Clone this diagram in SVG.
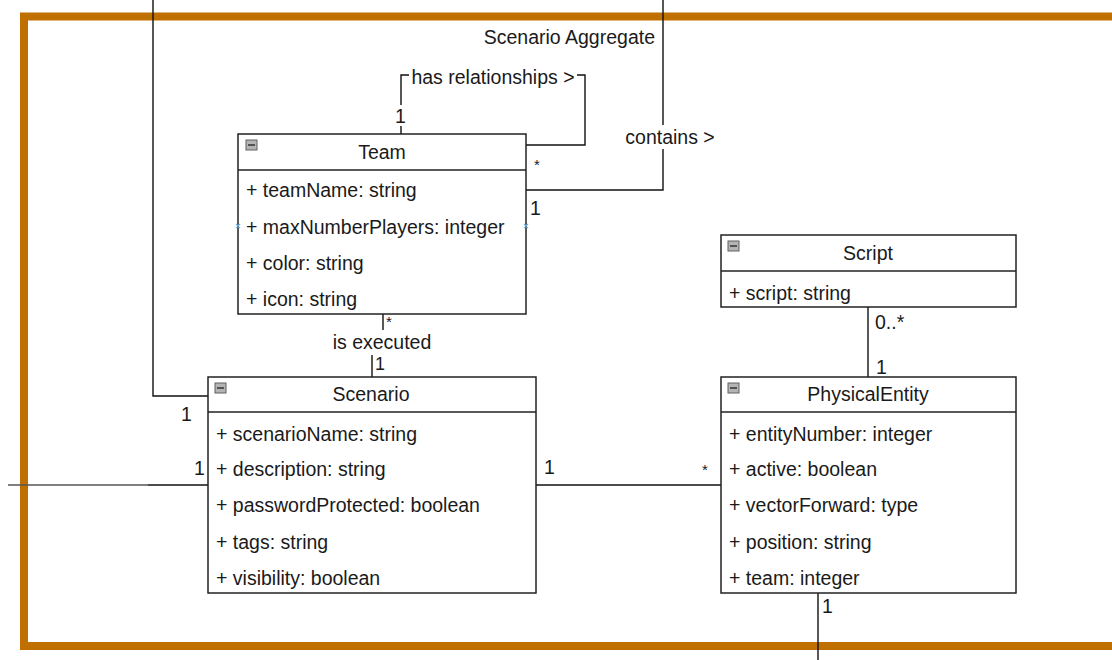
<svg xmlns="http://www.w3.org/2000/svg" width="1112" height="660" viewBox="0 0 1112 660">
  <style>
    text { font-family: "Liberation Sans", Arial, sans-serif; font-size: 19.5px; fill: #1a1a1a; }
    .title { text-anchor: middle; }
    .small { font-size: 15px; }
    .mult { font-size: 18px; }
    .box { fill: #ffffff; stroke: #222222; stroke-width: 1.5; }
    .sep { stroke: #222222; stroke-width: 1.5; }
    .edge { fill: none; stroke: #111111; stroke-width: 1.4; }
    .lbl { fill: #ffffff; }
    .tog { fill: #b4b4b4; stroke: #606060; stroke-width: 1; }
    .mark { stroke: #6cb4e8; stroke-width: 1.2; }
  </style>
  <defs>
    <g id="toggle">
      <rect class="tog" x="0" y="0" width="11" height="10"/>
      <line x1="2" y1="5" x2="9" y2="5" stroke="#333" stroke-width="1.5"/>
    </g>
  </defs>

  <rect width="1112" height="660" fill="#ffffff"/>

  <!-- aggregate frame -->
  <g id="aggregate">
    <rect x="24" y="16.5" width="1110" height="629.5" fill="none" stroke="#c07000" stroke-width="8"/>
    <text x="655" y="44" text-anchor="end">Scenario Aggregate</text>
  </g>

  <!-- associations -->
  <g id="connectors">
    <!-- incoming from above to Scenario -->
    <polyline class="edge" points="153,0 153,396 208,396"/>
    <text x="181" y="421">1</text>
    <!-- incoming from the left to Scenario -->
    <line x1="8" y1="485" x2="148" y2="485" stroke="#555" stroke-width="1.4"/>
    <line class="edge" x1="148" y1="485" x2="208" y2="485"/>
    <text x="194" y="475">1</text>

    <!-- contains -->
    <polyline class="edge" points="663,0 663,190 526,190"/>
    <rect class="lbl" x="620" y="125" width="100" height="24"/>
    <text x="670" y="144" text-anchor="middle">contains &gt;</text>
    <text x="530" y="215">1</text>

    <!-- has relationships (self) -->
    <polyline class="edge" points="401,134 401,75 585,75 585,145 526,145"/>
    <rect class="lbl" x="409" y="65" width="168" height="24"/>
    <text x="493" y="84" text-anchor="middle">has relationships &gt;</text>
    <rect class="lbl" x="394" y="105" width="13" height="21"/>
    <text x="395" y="123">1</text>
    <text x="534" y="170" class="small">*</text>

    <!-- is executed -->
    <line class="edge" x1="383" y1="314" x2="383" y2="330"/>
    <line class="edge" x1="372" y1="355" x2="372" y2="377"/>
    <text x="386" y="327" class="small">*</text>
    <text x="382" y="349" text-anchor="middle">is executed</text>
    <text x="375" y="370" class="mult">1</text>

    <!-- Scenario to PhysicalEntity -->
    <line class="edge" x1="536" y1="485" x2="721" y2="485"/>
    <text x="544" y="474">1</text>
    <text x="702" y="475" class="small">*</text>

    <!-- Script to PhysicalEntity -->
    <line class="edge" x1="868" y1="307" x2="868" y2="377"/>
    <text x="875" y="329">0..*</text>
    <text x="876" y="374">1</text>

    <!-- PhysicalEntity downward -->
    <line class="edge" x1="818" y1="593" x2="818" y2="660"/>
    <text x="822" y="613">1</text>
  </g>

  <!-- Team -->
  <g id="team">
    <rect class="box" x="238" y="134" width="288" height="180"/>
    <line class="sep" x1="238" y1="170" x2="526" y2="170"/>
    <use href="#toggle" x="246" y="140"/>
    <text class="title" x="382" y="159">Team</text>
    <text x="246" y="197">+ teamName: string</text>
    <text x="246" y="234">+ maxNumberPlayers: integer</text>
    <text x="246" y="270">+ color: string</text>
    <text x="246" y="306">+ icon: string</text>
    <path class="mark" d="M236,224 l4,4 M240,224 l-4,4 M524,224 l4,4 M528,224 l-4,4"/>
  </g>

  <!-- Scenario -->
  <g id="scenario">
    <rect class="box" x="208" y="377" width="328" height="216"/>
    <line class="sep" x1="208" y1="412" x2="536" y2="412"/>
    <use href="#toggle" x="215" y="383"/>
    <text class="title" x="371" y="401">Scenario</text>
    <text x="216" y="441">+ scenarioName: string</text>
    <text x="216" y="476">+ description: string</text>
    <text x="216" y="512">+ passwordProtected: boolean</text>
    <text x="216" y="549">+ tags: string</text>
    <text x="216" y="585">+ visibility: boolean</text>
  </g>

  <!-- Script -->
  <g id="script">
    <rect class="box" x="721" y="235" width="295" height="72"/>
    <line class="sep" x1="721" y1="271" x2="1016" y2="271"/>
    <use href="#toggle" x="728" y="241"/>
    <text class="title" x="868" y="260">Script</text>
    <text x="729" y="300">+ script: string</text>
  </g>

  <!-- PhysicalEntity -->
  <g id="physical-entity">
    <rect class="box" x="721" y="377" width="295" height="216"/>
    <line class="sep" x1="721" y1="412" x2="1016" y2="412"/>
    <use href="#toggle" x="728" y="383"/>
    <text class="title" x="868" y="401">PhysicalEntity</text>
    <text x="729" y="441">+ entityNumber: integer</text>
    <text x="729" y="476">+ active: boolean</text>
    <text x="729" y="512">+ vectorForward: type</text>
    <text x="729" y="549">+ position: string</text>
    <text x="729" y="585">+ team: integer</text>
  </g>
</svg>
